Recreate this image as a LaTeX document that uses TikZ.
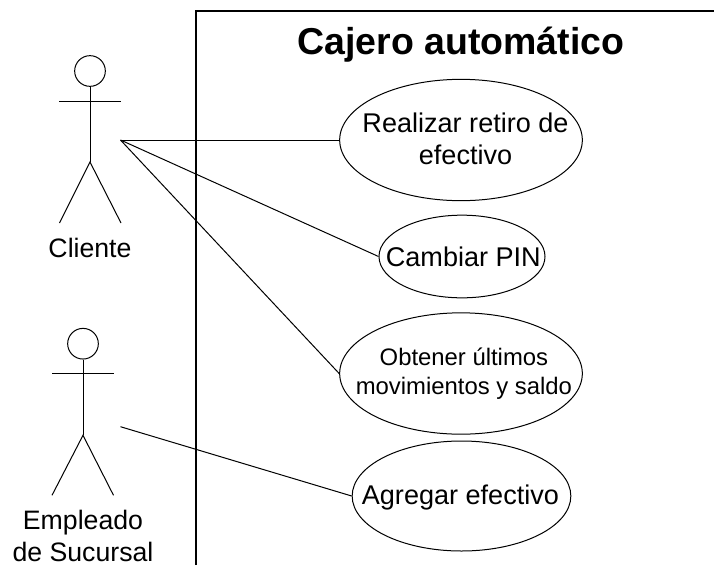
\documentclass[tikz,border=0pt]{standalone}
\usepackage{fontspec}
\setmainfont{Liberation Sans}
\usetikzlibrary{shapes.geometric}
\tikzset{
  uc/.style={draw=black,ellipse,line width=0.75pt,inner sep=0pt},
  uclbl/.style={inner sep=0pt,align=center,font=\fontsize{20.3pt}{23.7pt}\selectfont},
  smalllbl/.style={inner sep=0pt,align=center,font=\fontsize{17.9pt}{21.8pt}\selectfont},
  actorlbl/.style={inner sep=0pt,align=center,font=\fontsize{20pt}{23.7pt}\selectfont},
  head/.style={draw=black,circle,minimum size=23pt,inner sep=0pt,line width=0.75pt},
  ln/.style={draw=black,line width=0.75pt},
  frameln/.style={draw=black,line width=1.1pt}
}
\begin{document}
\begin{tikzpicture}[x=0.75pt,y=-0.75pt,line width=0.75pt]
\useasboundingbox (0,0) rectangle (714,565);
\fill[white] (0,0) rectangle (714,565);
% boundary
\coordinate (b1) at (196,565);
\coordinate (b2) at (196,11);
\coordinate (b3) at (714,11);
\draw[frameln] (b1) -- (b2) -- (b3);
\node[inner sep=0pt,font=\fontsize{28.1pt}{32pt}\selectfont\bfseries] (title) at (461,45) {Cajero automático};
% use cases
\node[uc,minimum width=182pt,minimum height=91pt,label={[uclbl,xshift=3.4pt,yshift=0.9pt]center:Realizar retiro de\\efectivo}] (u1) at (461,140) {};
\node[uc,minimum width=124.5pt,minimum height=62pt,label={[uclbl,xshift=1pt,yshift=0pt]center:Cambiar PIN}] (u2) at (462,256.5) {};
\node[uc,minimum width=182pt,minimum height=91pt,label={[smalllbl,xshift=2.2pt,yshift=0pt]center:Obtener últimos\\movimientos y saldo}] (u3) at (461,373.5) {};
\node[uc,minimum width=164pt,minimum height=82.5pt,label={[uclbl,xshift=-0.8pt,yshift=-1.1pt]center:Agregar efectivo}] (u4) at (461.5,496) {};
% actor 1
\node[head] (h1) at (90,71) {};
\coordinate (hip1) at (90,162);
\coordinate (al1) at (59,101.5);
\coordinate (ar1) at (121,101.5);
\coordinate (fl1) at (59.5,223);
\coordinate (fr1) at (121,223);
\coordinate (c1) at (120.5,140);
\draw[ln] (h1) -- (hip1);
\draw[ln] (al1) -- (ar1);
\draw[ln] (fl1) -- (hip1) -- (fr1);
\node[actorlbl] (a1) at (90,248) {Cliente};
% actor 2
\node[head] (h2) at (83,343.7) {};
\coordinate (hip2) at (83,435.3);
\coordinate (al2) at (52,373.7);
\coordinate (ar2) at (114,373.7);
\coordinate (fl2) at (52,495.3);
\coordinate (fr2) at (113.5,495.3);
\coordinate (c2) at (120.5,426.7);
\draw[ln] (h2) -- (hip2);
\draw[ln] (al2) -- (ar2);
\draw[ln] (fl2) -- (hip2) -- (fr2);
\node[actorlbl] (a2) at (83,536) {Empleado\\de Sucursal};
% connectors
\draw[ln] (c1) -- (u1.west);
\draw[ln] (c1) -- (u2.west);
\draw[ln] (c1) -- (u3.west);
\draw[ln] (c2) -- (u4.west);
\end{tikzpicture}
\end{document}
